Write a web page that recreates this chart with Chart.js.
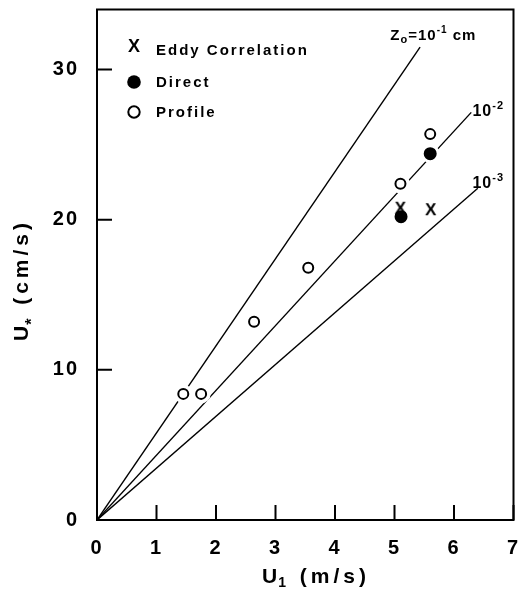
<!DOCTYPE html>
<html>
<head>
<meta charset="utf-8">
<script src="https://cdn.jsdelivr.net/npm/chart.js@4.4.1/dist/chart.umd.min.js"></script>
<style>
html,body{margin:0;padding:0;background:#fff;}
canvas{display:block;}
</style>
</head>
<body>
<canvas id="c" width="523" height="596"></canvas>
<script>
// ---- data ----
const profileX = [1.45, 1.75, 2.64, 3.55, 5.10, 5.60];
const profileY = [8.4, 8.4, 13.2, 16.8, 22.4, 25.7];
const directX = [5.11, 5.60];
const directY = [20.2, 24.4];
const eddyX = [5.10, 5.61];
const eddyY = [20.8, 20.7];
// z0 lines: start and end points (m/s, cm/s)
const lineZ1X = [0, 5.43]; const lineZ1Y = [0, 31.5];
const lineZ2X = [0, 6.29]; const lineZ2Y = [0, 27.15];
const lineZ3X = [0, 6.40]; const lineZ3Y = [0, 22.1];
const xTicks = [0, 1, 2, 3, 4, 5, 6, 7];
const yTicks = [0, 10, 20, 30];
const legendNames = ['Eddy Correlation', 'Direct', 'Profile'];
const xTitle = ['U', '1', ' (m/s)'];
const yTitle = ['U', '*', ' (cm/s)'];

const pts = (xs, ys) => xs.map((x, i) => ({x: x, y: ys[i]}));
const FONT = '"Liberation Sans", Arial, sans-serif';

// X marker as an image point style
const xMark = document.createElement('canvas');
xMark.width = 14; xMark.height = 16;
(function(){
  const g = xMark.getContext('2d');
  g.font = 'bold 17px ' + FONT;
  g.fillStyle = '#000';
  g.textAlign = 'center';
  const m = g.measureText('X');
  const base = 8 + (m.actualBoundingBoxAscent - m.actualBoundingBoxDescent) / 2;
  g.fillText('X', 7, base);
})();

function drawPieces(ctx, x, y, pieces) {
  // pieces: [text, size, dy, spacing]
  let cx = x;
  for (const p of pieces) {
    ctx.font = 'bold ' + p[1] + 'px ' + FONT;
    if (p[3] !== undefined) ctx.letterSpacing = p[3] + 'px';
    ctx.fillText(p[0], cx, y + p[2]);
    cx += ctx.measureText(p[0]).width;
  }
  return cx - x;
}
function piecesWidth(ctx, pieces) {
  let w = 0;
  for (const p of pieces) {
    ctx.font = 'bold ' + p[1] + 'px ' + FONT;
    if (p[3] !== undefined) ctx.letterSpacing = p[3] + 'px';
    w += ctx.measureText(p[0]).width;
  }
  return w;
}

const labels = [
  {x: 4.93, y: 31.95, pieces: [['Z',15,0],['o',11,3],['=10',15,0],['-1',10,-7],[' cm',15,0]]},
  {x: 6.31, y: 26.9, pieces: [['10',16,0],['-2',11,-7]]},
  {x: 6.31, y: 22.1, pieces: [['10',16,0],['-3',11,-7]]}
];

const decor = {
  id: 'decor',
  beforeDraw(chart) {
    chart.ctx.letterSpacing = '2px';
  },
  afterDraw(chart) {
    const ctx = chart.ctx;
    const a = chart.chartArea;
    const xs = chart.scales.x, ys = chart.scales.y;
    ctx.save();
    ctx.strokeStyle = '#000';
    ctx.fillStyle = '#000';
    // frame
    ctx.lineWidth = 2;
    ctx.strokeRect(a.left, a.top, a.right - a.left, a.bottom - a.top);
    // inward ticks
    ctx.beginPath();
    xs.ticks.forEach(t => {
      const px = xs.getPixelForValue(t.value);
      ctx.moveTo(px, a.bottom); ctx.lineTo(px, a.bottom - 15);
    });
    ys.ticks.forEach(t => {
      const py = ys.getPixelForValue(t.value);
      ctx.moveTo(a.left, py); ctx.lineTo(a.left + 15, py);
    });
    ctx.stroke();

    // line labels
    ctx.letterSpacing = '1px';
    ctx.textAlign = 'left';
    ctx.textBaseline = 'alphabetic';
    labels.forEach(l => {
      drawPieces(ctx, xs.getPixelForValue(l.x), ys.getPixelForValue(l.y), l.pieces);
    });

    // legend
    ctx.letterSpacing = '2px';
    ctx.font = 'bold 15px ' + FONT;
    ctx.textBaseline = 'middle';
    const ly = [50, 82, 112];
    const lx = 134, tx = 156;
    ctx.save();
    ctx.font = 'bold 18px ' + FONT;
    ctx.textAlign = 'center';
    ctx.letterSpacing = '0px';
    const m = ctx.measureText('X');
    ctx.textBaseline = 'alphabetic';
    ctx.fillText('X', lx, ly[0] + (m.actualBoundingBoxAscent - m.actualBoundingBoxDescent) / 2);
    ctx.restore();
    ctx.beginPath(); ctx.arc(lx, ly[1], 6.8, 0, Math.PI * 2); ctx.fill();
    ctx.lineWidth = 2;
    ctx.beginPath(); ctx.arc(lx, ly[2], 5.7, 0, Math.PI * 2); ctx.stroke();
    ctx.textAlign = 'left';
    legendNames.forEach((n, i) => ctx.fillText(n, tx, ly[i] + 1));

    // axis titles
    ctx.textBaseline = 'alphabetic';
    ctx.textAlign = 'left';
    drawPieces(ctx, 262, 583, [[xTitle[0],21,0,1],[xTitle[1],14,4,4],[xTitle[2],21,0,4]]);

    ctx.save();
    ctx.translate(20, 280);
    ctx.rotate(-Math.PI / 2);
    const yp = [[yTitle[0],21,0,1],[yTitle[1],16,9,4],[yTitle[2],21,0,4]];
    const w = piecesWidth(ctx, yp);
    drawPieces(ctx, -w / 2, 7.5, yp);
    ctx.restore();

    ctx.restore();
  }
};

const lineDs = (xs, ys) => ({
  data: pts(xs, ys), showLine: true, pointRadius: 0, borderColor: '#000',
  borderWidth: 1.4, order: 2, fill: false
});

new Chart(document.getElementById('c'), {
  type: 'scatter',
  data: {
    datasets: [
      {label: legendNames[0], data: pts(eddyX, eddyY), pointStyle: xMark, order: 0},
      {label: legendNames[1], data: pts(directX, directY), pointRadius: 5.5, borderWidth: 2,
        backgroundColor: '#000', borderColor: '#000', order: 0},
      {label: legendNames[2], data: pts(profileX, profileY), pointRadius: 5, borderWidth: 2,
        backgroundColor: '#fff', borderColor: '#000', order: 0},
      {label: 'halo', data: pts(profileX.concat(directX), profileY.concat(directY)), pointRadius: 9.5,
        borderWidth: 0, backgroundColor: '#fff', borderColor: '#fff', order: 1},
      lineDs(lineZ1X, lineZ1Y),
      lineDs(lineZ2X, lineZ2Y),
      lineDs(lineZ3X, lineZ3Y)
    ]
  },
  options: {
    responsive: false,
    animation: false,
    events: [],
    layout: {padding: {top: 9, right: 3, left: 0, bottom: 0}},
    plugins: {legend: {display: false}, tooltip: {enabled: false}},
    scales: {
      x: {
        type: 'linear', min: 0, max: 7,
        afterBuildTicks: s => { s.ticks = xTicks.map(v => ({value: v})); },
        afterFit: s => { s.height = 76; s.paddingLeft = 0; s.paddingRight = 0; },
        grid: {display: false, drawTicks: false},
        border: {display: false},
        ticks: {color: '#000', padding: 16, font: {family: FONT, size: 20, weight: 'bold'}, maxRotation: 0}
      },
      y: {
        type: 'linear', min: 0, max: 34,
        afterBuildTicks: s => { s.ticks = yTicks.map(v => ({value: v})); },
        afterFit: s => { s.width = 97; s.paddingTop = 0; s.paddingBottom = 0; },
        grid: {display: false, drawTicks: false},
        border: {display: false},
        ticks: {color: '#000', padding: 18, font: {family: FONT, size: 20, weight: 'bold'}}
      }
    }
  },
  plugins: [decor]
});
</script>
</body>
</html>
